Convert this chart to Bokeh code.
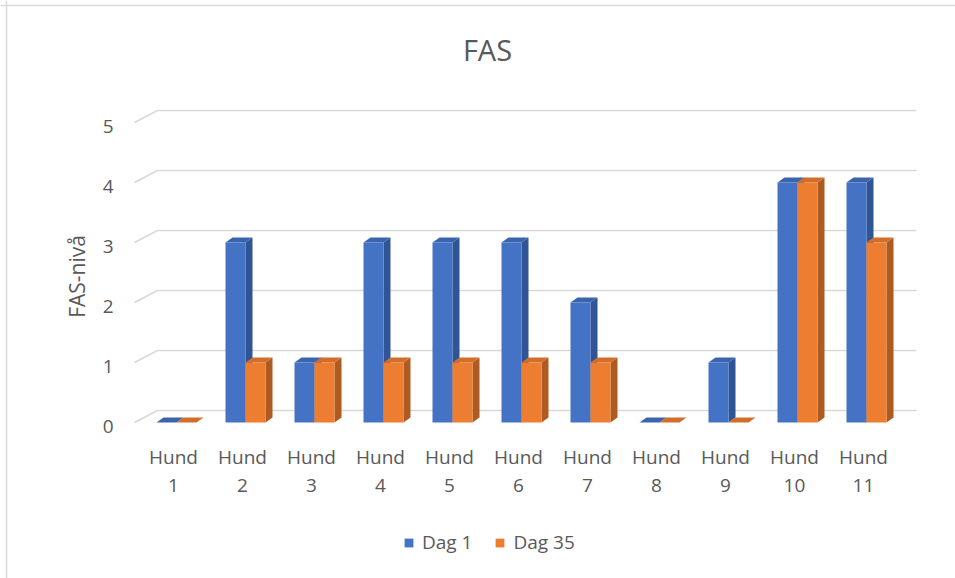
import math
from bokeh.plotting import figure
from bokeh.models import Range1d, Legend, LegendItem, Span
from bokeh.core.properties import value
from bokeh.embed import file_html
from bokeh.resources import INLINE

# ---------------- data ----------------
categories = ["Hund 1", "Hund 2", "Hund 3", "Hund 4", "Hund 5", "Hund 6",
              "Hund 7", "Hund 8", "Hund 9", "Hund 10", "Hund 11"]
tick_labels = ["Hund\n1", "Hund\n2", "Hund\n3", "Hund\n4", "Hund\n5", "Hund\n6",
               "Hund\n7", "Hund\n8", "Hund\n9", "Hund\n10", "Hund\n11"]
dag1 = [0, 3, 1, 3, 3, 3, 2, 0, 1, 4, 4]
dag35 = [0, 1, 1, 1, 1, 1, 1, 0, 0, 4, 3]
series_names = ["Dag 1", "Dag 35"]
y_ticks = [0, 1, 2, 3, 4, 5]
title_text = "FAS"
y_title = "FAS-nivå"

# ---------------- style / geometry ----------------
W, H = 955, 578
PXC = 69.0          # pixels per category
PXV = 60.0          # pixels per value unit
ORIGIN_X = 176.0    # figure px of category 1 centre
ORIGIN_Y = 422.0    # figure px (from top) of value 0 (front plane)
FONT = "Open Sans"
TXT = "#595959"
GRID = "#d9d9d9"
BLUE = ("#4472C4", "#3B64AF", "#2F5597")     # front, top, side
ORANGE = ("#ED7D31", "#D36E2A", "#AE5A21")

x_start = 1 - ORIGIN_X / PXC
x_end = x_start + W / PXC
y_end = ORIGIN_Y / PXV
y_start = y_end - H / PXV

bw = 20 / PXC                  # bar width
bdx, bdy = 7 / PXC, 5 / PXV    # bar depth offset
wdx, wdy = 23 / PXC, 12 / PXV  # wall depth offset
floor_left = 1 - 42 / PXC
n = len(categories)
xs = [i + 1 for i in range(n)]

p = figure(width=W, height=H, x_range=Range1d(x_start, x_end),
           y_range=Range1d(y_start, y_end), output_backend="svg",
           toolbar_location=None, min_border=0, title=None)
p.xaxis.visible = False
p.yaxis.visible = False
p.xgrid.visible = False
p.ygrid.visible = False
p.outline_line_color = None
p.background_fill_color = "white"
p.border_fill_color = "white"

# chart border (top and left visible in the reference)
p.add_layout(Span(location=x_start + 6 / PXC, dimension="height", line_color=GRID, line_width=1.5))
p.add_layout(Span(location=y_end - 5 / PXV, dimension="width", line_color=GRID, line_width=1.5))

# gridlines on back wall + diagonal side-wall lines
gx0 = [floor_left + wdx] * len(y_ticks)
gx1 = [floor_left + n + wdx] * len(y_ticks)
gy = [v + wdy for v in y_ticks]
p.segment(x0=gx0, y0=gy, x1=gx1, y1=gy, line_color=GRID, line_width=1.6)
p.segment(x0=[floor_left] * len(y_ticks), y0=y_ticks, x1=gx0, y1=gy,
          line_color=GRID, line_width=1.6)

renderers = []
for vals, cols, side in ((dag1, BLUE, -1), (dag35, ORANGE, 0)):
    lefts = [x + side * bw for x in xs]
    rights = [l + bw for l in lefts]
    side_xs = [[r, r + bdx, r + bdx, r] for r in rights]
    side_ys = [[0, bdy, v + bdy, v] for v in vals]
    top_xs = [[l, r, r + bdx, l + bdx] for l, r in zip(lefts, rights)]
    top_ys = [[v, v, v + bdy, v + bdy] for v in vals]
    p.patches(side_xs, side_ys, fill_color=cols[2], line_color=None)
    p.patches(top_xs, top_ys, fill_color=cols[1], line_color=None)
    r = p.quad(left=lefts, right=rights, bottom=[0] * n, top=vals,
               fill_color=cols[0], line_color=None)
    renderers.append(r)

# y tick labels
p.text(x=[floor_left] * len(y_ticks), y=y_ticks, text=[str(v) for v in y_ticks],
       text_align="right", text_baseline="middle", x_offset=-21, y_offset=4,
       text_font=value(FONT), text_font_size="19px", text_color=TXT)

# x tick labels
p.text(x=xs, y=[0] * n, text=tick_labels, text_align="center",
       text_baseline="middle", x_offset=-3, y_offset=48.5,
       text_line_height=1.04,
       text_font=value(FONT), text_font_size="19px", text_color=TXT)

# title
p.text(x=[(x_start + x_end) / 2], y=[y_end], text=[title_text], text_align="center",
       text_baseline="middle", x_offset=9.5, y_offset=49,
       text_font=value(FONT), text_font_size="29px", text_color=TXT)

# y axis title
p.text(x=[x_start], y=[y_end], text=[y_title], angle=math.pi / 2,
       text_align="center", text_baseline="middle", x_offset=76, y_offset=276,
       text_font=value(FONT), text_font_size="21px", text_color=TXT)

legend = Legend(items=[LegendItem(label=series_names[0], renderers=[renderers[0]]),
                       LegendItem(label=series_names[1], renderers=[renderers[1]])],
                orientation="horizontal", location=(403, 23),
                padding=0, margin=0, spacing=22, label_standoff=8,
                glyph_width=11, glyph_height=11, label_height=20,
                label_text_font=FONT, label_text_font_size="19px",
                label_text_color=TXT, background_fill_alpha=0,
                border_line_color=None)
p.add_layout(legend)

open("out.html", "w").write(file_html(p, INLINE))
